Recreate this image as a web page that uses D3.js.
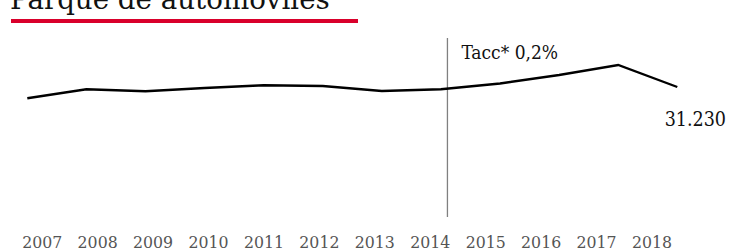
<!DOCTYPE html>
<html><head><meta charset="utf-8">
<script src="https://cdn.jsdelivr.net/npm/d3@7"></script>
<style>body{margin:0;background:#fff}svg{display:block}</style>
</head><body>
<svg id="c" width="731" height="252"></svg>
<script>
const years = ["2007","2008","2009","2010","2011","2012","2013","2014","2015","2016","2017","2018"];
const values = [30552,31092,30972,31170,31332,31290,30990,31092,31440,31950,32550,31230];
const title = "Parque de automóviles";
const markerYear = "2014";
const markerLabel = "Tacc* 0,2%";
const lastLabel = "31.230";

const svg = d3.select("#c");
const x = d3.scalePoint().domain(years).range([27.3, 677.3]);
const xLab = d3.scalePoint().domain(years).range([41.7, 651.5]);
const y = d3.scaleLinear().domain([30552, 32550]).range([98.3, 65]);

svg.append("text").attr("x", 10).attr("y", 9)
  .attr("font-family", "'DejaVu Serif', serif").attr("font-size", 27.7)
  .attr("fill", "#111").text(title);
svg.append("rect").attr("x", 11).attr("y", 19).attr("width", 347).attr("height", 4).attr("fill", "#d9002b");

const mx = x(markerYear) + 6.5;
svg.append("line").attr("x1", mx).attr("x2", mx)
  .attr("y1", 38).attr("y2", 217).attr("stroke", "#808080").attr("stroke-width", 1.3);

svg.append("path").datum(values)
  .attr("d", d3.line().x((d,i)=>x(years[i])).y(d=>y(d)))
  .attr("fill", "none").attr("stroke", "#000").attr("stroke-width", 2.4).attr("stroke-linejoin", "miter");

svg.append("text").attr("x", mx + 14).attr("y", 58.7)
  .attr("font-family", "'DejaVu Serif', serif").attr("font-size", 19).attr("font-stretch", "condensed")
  .attr("fill", "#111").text(markerLabel);

svg.append("text").attr("x", 726).attr("y", 125.7).attr("text-anchor", "end")
  .attr("font-family", "'DejaVu Serif', serif").attr("font-size", 19.5).attr("font-stretch", "condensed")
  .attr("fill", "#111").text(lastLabel);

const axis = d3.axisBottom(xLab).tickSize(0).tickPadding(0);
const g = svg.append("g").attr("transform", "translate(0,248)").call(axis);
g.select(".domain").remove();
g.selectAll("text").attr("font-family", "'DejaVu Serif', serif").attr("font-size", 17.5)
  .attr("font-stretch", "condensed").attr("fill", "#555").attr("dy", "0");
</script>
</body></html>
